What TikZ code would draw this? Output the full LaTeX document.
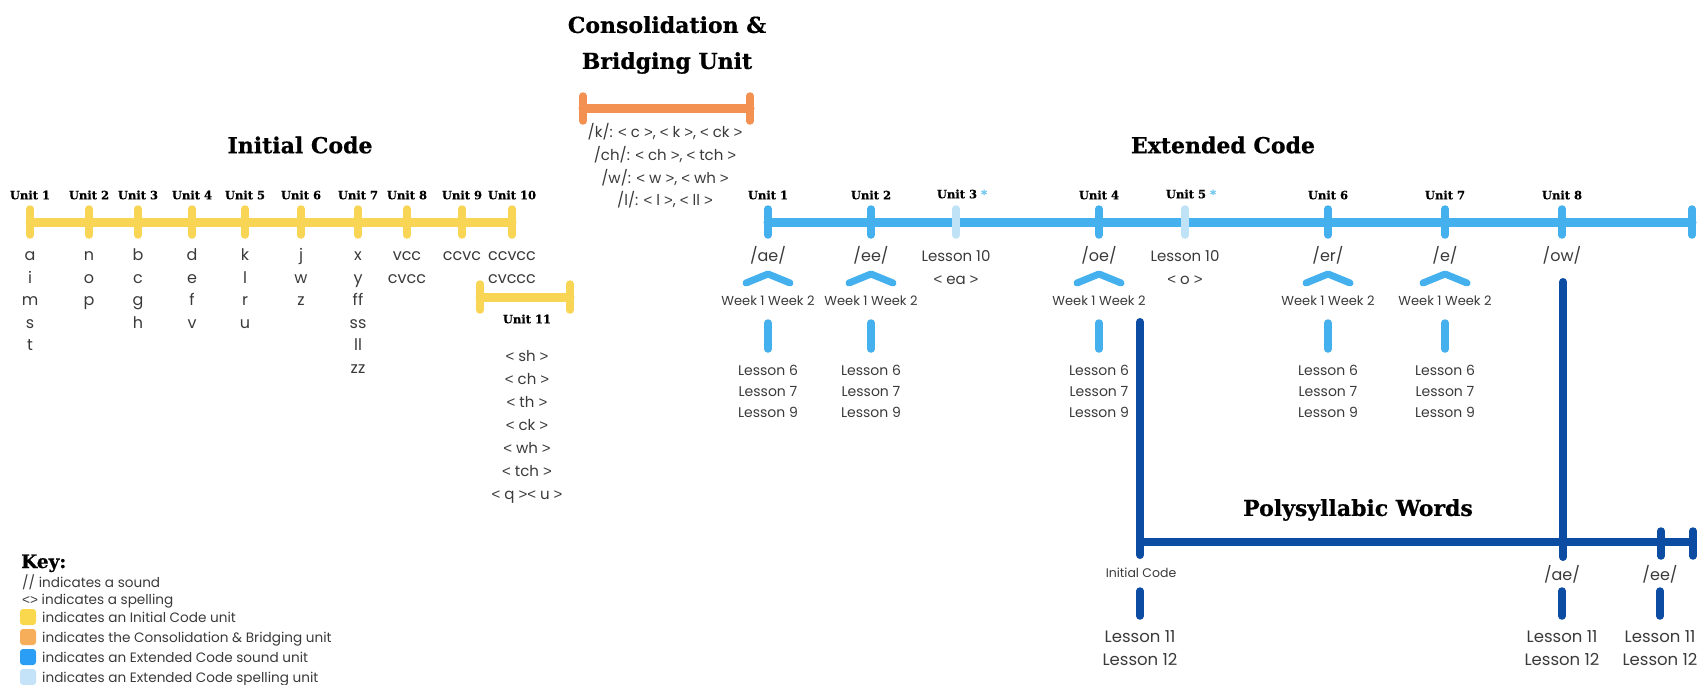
\documentclass[tikz,border=0pt]{standalone}
\usepackage{fontspec}
\setmainfont{Poppins}
\newfontfamily\slab[BoldFeatures={FakeBold=0.6}]{DejaVu Serif}
\newfontfamily\symf{Liberation Sans}
\newcommand\LT{{\symf<}}
\newcommand\GT{{\symf>}}
\definecolor{icc}{HTML}{F8D555}
\definecolor{cbc}{HTML}{F39152}
\definecolor{ecc}{HTML}{45B0EE}
\definecolor{esc}{HTML}{BFE2F6}
\definecolor{pwc}{HTML}{0D4CA3}
\definecolor{txt}{HTML}{3A3A3A}
\definecolor{starc}{HTML}{6EC5EE}
\definecolor{keyy}{HTML}{F9D84E}
\definecolor{keyo}{HTML}{F6AE5A}
\definecolor{keyb}{HTML}{2A9DF4}
\definecolor{keyl}{HTML}{C4E3F9}
\tikzset{
  bar/.style={line width=9pt, line cap=round},
  tk/.style={line width=7.5pt, line cap=round},
  chev/.style={line width=7pt, line cap=round, line join=round, ecc},
  ttl/.style={font=\slab\bfseries\fontsize{22}{36}\selectfont, text=black, inner sep=0pt, align=center},
  ulab/.style={font=\slab\bfseries\fontsize{11.5}{13}\selectfont, text=black, inner sep=0pt},
  lt/.style={font=\fontsize{14}{16}\selectfont, text=txt, inner sep=0pt, anchor=base},
  big/.style={font=\fontsize{16}{18}\selectfont, text=txt, inner sep=0pt, anchor=base},
  mid/.style={font=\fontsize{15}{17}\selectfont, text=txt, inner sep=0pt, anchor=base},
  wk/.style={font=\fontsize{13}{15}\selectfont, text=txt, inner sep=0pt, anchor=base},
  keyt/.style={font=\fontsize{13.6}{15}\selectfont, text=txt, inner sep=0pt, anchor=base west},
}
\newcommand\icolumn[3]{%
  \foreach \s [count=\r] in {#3} {\node[big] (#1-\r) at (#2, 238+22.5*\r) {\s};}}
\newcommand\soundunit[3]{% name, x, sound
  \node[big] (#1snd) at (#2,261) {#3};
  \draw[chev] (#2-22,283) -- (#2,274) -- (#2+22,283);
  \node[wk] (#1wk) at (#2,305) {Week 1 Week 2};
  \coordinate (#1bt) at (#2,323);
  \coordinate (#1bb) at (#2,349);
  \draw[tk, ecc] (#1bt) -- (#1bb);
  \node[lt] (#1l6) at (#2,375) {Lesson 6};
  \node[lt] (#1l7) at (#2,396) {Lesson 7};
  \node[lt] (#1l9) at (#2,417) {Lesson 9};}
\begin{document}
\begin{tikzpicture}[x=1pt,y=-1pt]
\useasboundingbox (0,0) rectangle (1697,685);
% ---------------- Initial Code ----------------
\node[ttl] (ictitle) at (300,145) {Initial Code};
\foreach \n/\x in {1/30,2/89,3/138,4/192,5/245,6/301,7/358,8/407,9/462,10/512} {
  \coordinate (ic\n) at (\x,222);
  \coordinate (ic\n t) at (\x,209);
  \coordinate (ic\n b) at (\x,235);
  \node[ulab] (icu\n) at (\x,195) {Unit \n};
}
\draw[bar, icc] (ic1) -- (ic10);
\foreach \n in {1,...,10} \draw[tk, icc] (ic\n t) -- (ic\n b);
\icolumn{ca}{30}{a,i,m,s,t}
\icolumn{cb}{89}{n,o,p}
\icolumn{cc}{138}{b,c,g,h}
\icolumn{cd}{192}{d,e,f,v}
\icolumn{ce}{245}{k,l,r,u}
\icolumn{cf}{301}{j,w,z}
\icolumn{cg}{358}{x,y,ff,ss,ll,zz}
\icolumn{ch}{407}{vcc,cvcc}
\icolumn{ci}{462}{ccvc}
\icolumn{cj}{512}{ccvcc,cvccc}
% Unit 11
\coordinate (u11a) at (480,297);
\coordinate (u11b) at (570,297);
\draw[bar, icc] (u11a) -- (u11b);
\draw[tk, icc] (480,284) -- (480,310);
\draw[tk, icc] (570,284) -- (570,310);
\node[ulab] (u11) at (527,319) {Unit 11};
\foreach \s [count=\r] in {{\LT\ sh \GT},{\LT\ ch \GT},{\LT\ th \GT},{\LT\ ck \GT},{\LT\ wh \GT},{\LT\ tch \GT},{\LT\ q \GT\LT\ u \GT}}
  \node[mid] (u11-\r) at (527,338+23*\r) {\s};
% ---------------- Consolidation ----------------
\node[ttl] (cbtitle) at (667,45) {Consolidation \&\\Bridging Unit};
\coordinate (cba) at (583,108);
\coordinate (cbb) at (750,108);
\draw[bar, cbc] (cba) -- (cbb);
\draw[tk, cbc] (583,96) -- (583,121);
\draw[tk, cbc] (750,96) -- (750,121);
\node[mid] (cb1) at (665,137) {/k/: \LT\ c \GT, \LT\ k \GT, \LT\ ck \GT};
\node[mid] (cb2) at (665,160) {/ch/: \LT\ ch \GT, \LT\ tch \GT};
\node[mid] (cb3) at (665,183) {/w/: \LT\ w \GT, \LT\ wh \GT};
\node[mid] (cb4) at (665,205) {/l/: \LT\ l \GT, \LT\ ll \GT};
% ---------------- Extended Code ----------------
\node[ttl] (ectitle) at (1223,145) {Extended Code};
\coordinate (ecstart) at (768,222);
\coordinate (ecend) at (1692,222);
\draw[bar, ecc] (ecstart) -- (ecend);
\foreach \n/\x/\c in {1/768/ecc,2/871/ecc,3/956/esc,4/1099/ecc,5/1185/esc,6/1328/ecc,7/1445/ecc,8/1562/ecc,9/1692/ecc}
  \draw[tk, \c] (\x,209) -- (\x,235);
\foreach \n/\x in {1/768,2/871,4/1099,6/1328,7/1445,8/1562}
  \node[ulab] (ecu\n) at (\x,195) {Unit \n};
\node[ulab] (ecu3) at (962,194) {Unit 3 \textcolor{starc}{*}};
\node[ulab] (ecu5) at (1191,194) {Unit 5 \textcolor{starc}{*}};
\soundunit{ea}{768}{/ae/}
\soundunit{eb}{871}{/ee/}
\soundunit{ed}{1099}{/oe/}
\soundunit{ef}{1328}{/er/}
\soundunit{eg}{1445}{/e/}
\node[big] (ecsnd8) at (1562,261) {/ow/};
\node[mid] (ec3l) at (956,261) {Lesson 10};
\node[mid] (ec3s) at (956,284) {\LT\ ea \GT};
\node[mid] (ec5l) at (1185,261) {Lesson 10};
\node[mid] (ec5s) at (1185,284) {\LT\ o \GT};
% ---------------- Polysyllabic ----------------
\node[ttl] (pwtitle) at (1358,510) {Polysyllabic Words};
\coordinate (pwtop) at (1140,322);
\coordinate (pwcorner) at (1140,542);
\coordinate (pwlow) at (1140,555);
\coordinate (pwend) at (1693,542);
\coordinate (pw8top) at (1563,282);
\coordinate (pw8low) at (1563,557);
\draw[line width=8pt, line cap=round, pwc] (pwtop) -- (pwlow);
\draw[line width=8pt, pwc] (pwcorner) -- (pwend);
\draw[line width=8pt, line cap=round, pwc] (pw8top) -- (pw8low);
\draw[tk, pwc] (1661,531) -- (1661,556);
\draw[tk, pwc] (1693,531) -- (1693,556);
\node[font=\fontsize{12.5}{14}\selectfont, text=txt, inner sep=0pt, anchor=base] (pwic) at (1141,577) {Initial Code};
\node[big] (pwae) at (1562,580) {/ae/};
\node[big] (pwee) at (1660,580) {/ee/};
\foreach \n/\x in {a/1140,b/1562,c/1660} {
  \draw[tk, pwc] (\x,591) -- (\x,616);
  \node[lt, font=\fontsize{16.5}{18}\selectfont] (pw\n11) at (\x,642) {Lesson 11};
  \node[lt, font=\fontsize{16.5}{18}\selectfont] (pw\n12) at (\x,665) {Lesson 12};
}
% ---------------- Key ----------------
\node[font=\slab\bfseries\fontsize{18.5}{20}\selectfont, inner sep=0pt, anchor=base west] (key) at (21,568) {Key:};
\node[keyt] (k1) at (22,587) {// indicates a sound};
\node[keyt] (k2) at (22,604) {\LT\GT\ indicates a spelling};
\foreach \c/\t [count=\i] in {keyy/indicates an Initial Code unit, keyo/indicates the Consolidation \& Bridging unit, keyb/indicates an Extended Code sound unit, keyl/indicates an Extended Code spelling unit} {
  \fill[\c, rounded corners=3pt] (20,609+20*\i-20) rectangle (36,625+20*\i-20);
  \node[keyt] (kk\i) at (42,622+20*\i-20) {\t};
}
\end{tikzpicture}
\end{document}
